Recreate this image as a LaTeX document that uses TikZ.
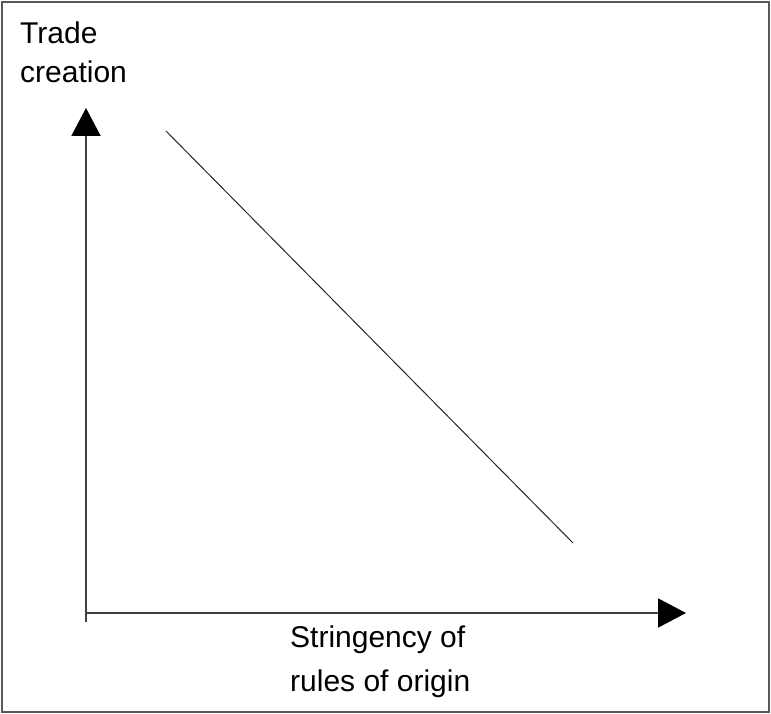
\documentclass[tikz,border=0pt]{standalone}
\usepackage{fontspec}
\setmainfont{Liberation Sans}
\usetikzlibrary{arrows.meta}
\tikzset{>={Triangle[length=28pt,width=29pt,color=black]}}
\colorlet{axisgray}{black!75}
\tikzset{
  axis/.style={draw=axisgray, line width=2pt, ->},
  trend/.style={draw=black!85, line width=1pt},
  lbl/.style={inner sep=0, align=left, anchor=base west, font=\fontsize{30}{39}\selectfont},
}

\begin{document}
\begin{tikzpicture}[x=1pt, y=-1pt]
  \useasboundingbox (0,0) rectangle (771,714);
  \draw[black!65, line width=2.5pt] (2,2) rectangle (769,712);

  \coordinate (o) at (86,613);
  \coordinate (ybot) at (86,622);
  \coordinate (ytop) at (86,108);
  \coordinate (xend) at (686,613);
  \coordinate (start) at (166,131);
  \coordinate (stop) at (573,543);

  % base anchor sits on the last line
  \node[lbl] (ylabel) at (20,83) {Trade\\creation};
  \node[lbl, font=\fontsize{30}{44}\selectfont] (xlabel) at (290,691) {Stringency of\\rules of origin};

  \draw[axis] (ybot) -- (ytop);
  \draw[axis] (o) -- (xend);
  \draw[trend] (start) -- (stop);
\end{tikzpicture}
\end{document}
